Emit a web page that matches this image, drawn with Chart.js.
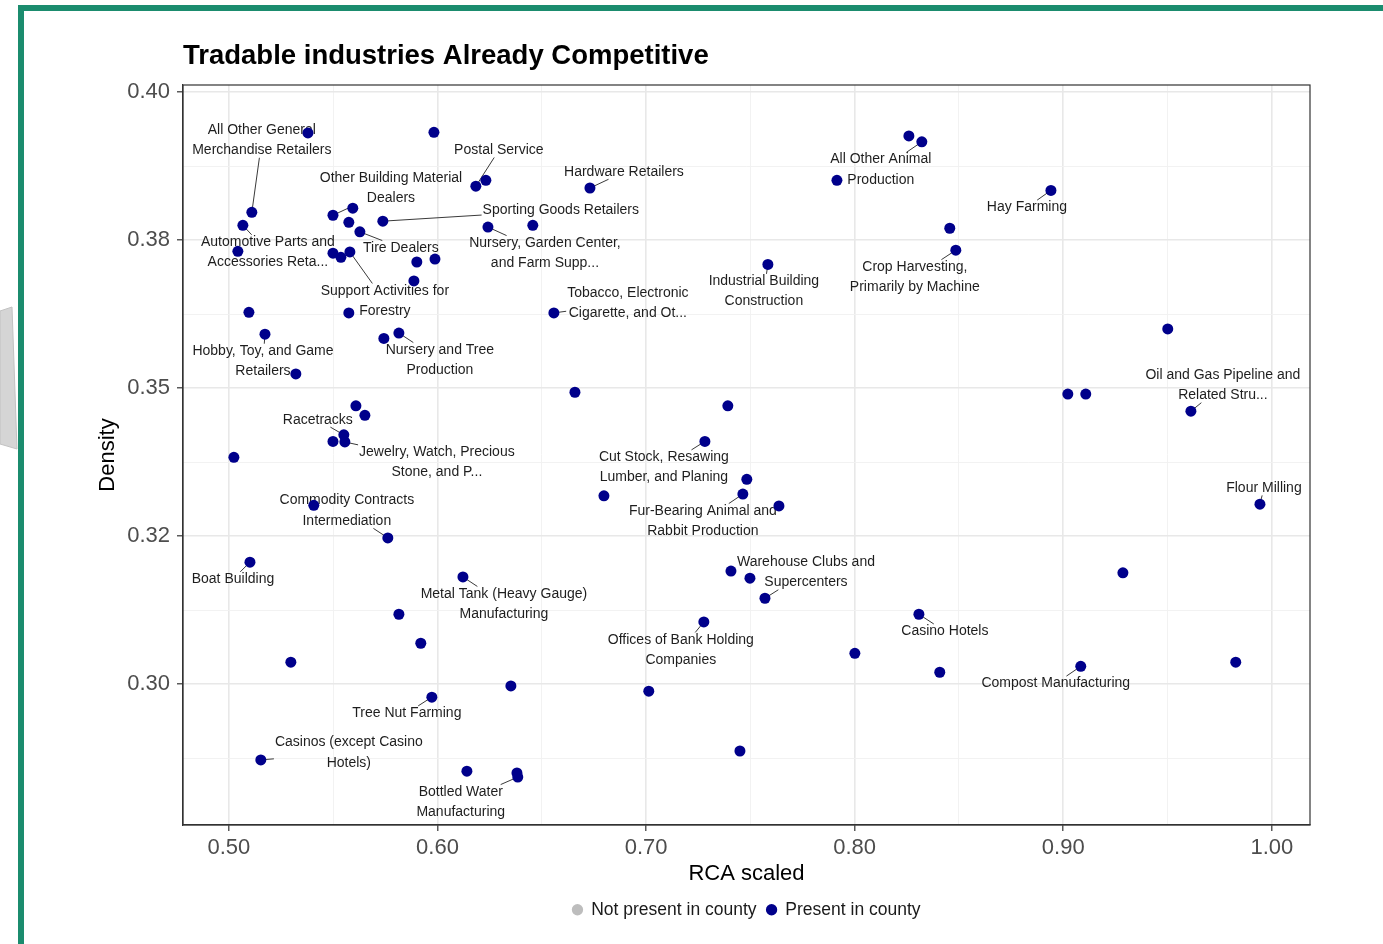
<!DOCTYPE html>
<html>
<head>
<meta charset="utf-8">
<title>Tradable industries Already Competitive</title>
<script src="https://cdn.jsdelivr.net/npm/chart.js@4.4.1/dist/chart.umd.min.js"></script>
<style>
  html, body { margin: 0; padding: 0; background: #fff; }
  #wrap { position: relative; width: 1383px; height: 944px; overflow: hidden; }
</style>
</head>
<body>
<div id="wrap"><canvas id="chart" width="1383" height="944"></canvas></div>
<script>
// values (RCA scaled vs density, one entry per industry)
const rcaScaled = [
  0.5379, 0.5983, 0.6184, 0.6232, 0.6731, 0.5499, 0.5594, 0.5575, 0.5628, 0.5738,
  0.5067, 0.5110, 0.5043, 0.5499, 0.5537, 0.5580, 0.5901, 0.5988, 0.5887, 0.5096,
  0.5575, 0.5173, 0.5321, 0.5743, 0.5815, 0.6242, 0.6457, 0.6558, 0.7584, 0.7915,
  0.8260, 0.8322, 0.8941, 0.8456, 0.8485, 0.9501, 0.9022, 0.9108, 0.9612, 0.9943,
  0.9286, 0.9827, 0.9084, 0.8408, 0.8001, 0.8308, 0.7570, 0.7407, 0.7498, 0.7277,
  0.7013, 0.7450, 0.7483, 0.7464, 0.7637, 0.7282, 0.7392, 0.6798, 0.6659, 0.5609,
  0.5652, 0.5499, 0.5551, 0.5556, 0.5024, 0.5407, 0.5762, 0.5101, 0.6122, 0.5815,
  0.5920, 0.5297, 0.5973, 0.6352, 0.5153, 0.6141, 0.6381, 0.6385
];
const density = [
  0.3931, 0.3932, 0.3841, 0.3851, 0.3838, 0.3792, 0.3804, 0.3780, 0.3764, 0.3782,
  0.3775, 0.3797, 0.3731, 0.3728, 0.3721, 0.3730, 0.3713, 0.3718, 0.3681, 0.3628,
  0.3627, 0.3591, 0.3524, 0.3584, 0.3593, 0.3772, 0.3775, 0.3627, 0.3709, 0.3851,
  0.3926, 0.3916, 0.3834, 0.3770, 0.3733, 0.3600, 0.3490, 0.3490, 0.3461, 0.3304,
  0.3188, 0.3037, 0.3030, 0.3020, 0.3052, 0.3118, 0.3145, 0.3191, 0.3179, 0.3105,
  0.2988, 0.2887, 0.3346, 0.3321, 0.3301, 0.3410, 0.3470, 0.3318, 0.3493, 0.3470,
  0.3454, 0.3410, 0.3421, 0.3409, 0.3383, 0.3302, 0.3247, 0.3206, 0.3181, 0.3118,
  0.3069, 0.3037, 0.2978, 0.2997, 0.2872, 0.2853, 0.2850, 0.2843
];
const industryNames = [
  '', '', 'Postal Service', '', 'Hardware Retailers',
  'Other Building Material\nDealers', '', '', 'Tire Dealers', 'Sporting Goods Retailers',
  'Automotive Parts and\nAccessories Reta...', 'All Other General\nMerchandise Retailers', '', '', '',
  'Support Activities for\nForestry', '', '', '', '',
  '', 'Hobby, Toy, and Game\nRetailers', '', '', 'Nursery and Tree\nProduction',
  'Nursery, Garden Center,\nand Farm Supp...', '', 'Tobacco, Electronic\nCigarette, and Ot...', 'Industrial Building\nConstruction', '',
  '', 'All Other Animal\nProduction', 'Hay Farming', '', 'Crop Harvesting,\nPrimarily by Machine',
  '', '', '', 'Oil and Gas Pipeline and\nRelated Stru...', 'Flour Milling',
  '', '', 'Compost Manufacturing', '', '',
  'Casino Hotels', 'Warehouse Clubs and\nSupercenters', '', '', 'Offices of Bank Holding\nCompanies',
  '', '', '', 'Fur-Bearing Animal and\nRabbit Production', '',
  'Cut Stock, Resawing\nLumber, and Planing', '', '', '', '',
  '', '', 'Racetracks', 'Jewelry, Watch, Precious\nStone, and P...', '',
  '', 'Commodity Contracts\nIntermediation', 'Boat Building', 'Metal Tank (Heavy Gauge)\nManufacturing', '',
  '', '', 'Tree Nut Farming', '', 'Casinos (except Casino\nHotels)',
  '', '', 'Bottled Water\nManufacturing'
];
const legendNames = ['Not present in county', 'Present in county'];
const xMajorTicks = [0.50, 0.60, 0.70, 0.80, 0.90, 1.00];
const xTickLabels = ['0.50', '0.60', '0.70', '0.80', '0.90', '1.00'];
const yMajorTicks = [0.300, 0.325, 0.350, 0.375, 0.400];
const yTickLabels = ['0.30', '0.32', '0.35', '0.38', '0.40'];
const xMinorTicks = [0.55, 0.65, 0.75, 0.85, 0.95];
const yMinorTicks = [0.2875, 0.3125, 0.3375, 0.3625, 0.3875];

// where each text label sits relative to its point (pixels), like ggrepel placed them
const labelOffsets = {
  'Postal Service': [23, -36],
  'Hardware Retailers': [34, -16],
  'Other Building Material\nDealers': [58, -27],
  'Tire Dealers': [41, 16],
  'Sporting Goods Retailers': [178, -11],
  'Automotive Parts and\nAccessories Reta...': [25, 27],
  'All Other General\nMerchandise Retailers': [10, -72],
  'Support Activities for\nForestry': [35, 49],
  'Hobby, Toy, and Game\nRetailers': [-2, 27],
  'Nursery and Tree\nProduction': [41, 27],
  'Nursery, Garden Center,\nand Farm Supp...': [57, 26],
  'Tobacco, Electronic\nCigarette, and Ot...': [74, -10],
  'Industrial Building\nConstruction': [-4, 27],
  'All Other Animal\nProduction': [-41, 28],
  'Hay Farming': [-24, 17],
  'Crop Harvesting,\nPrimarily by Machine': [-41, 27],
  'Oil and Gas Pipeline and\nRelated Stru...': [32, -26],
  'Flour Milling': [4, -16],
  'Compost Manufacturing': [-25, 17],
  'Casino Hotels': [26, 17],
  'Warehouse Clubs and\nSupercenters': [41, -26],
  'Offices of Bank Holding\nCompanies': [-23, 28],
  'Fur-Bearing Animal and\nRabbit Production': [-40, 27],
  'Cut Stock, Resawing\nLumber, and Planing': [-41, 26],
  'Racetracks': [-26, -15],
  'Jewelry, Watch, Precious\nStone, and P...': [92, 20],
  'Commodity Contracts\nIntermediation': [-41, -27],
  'Boat Building': [-17, 17],
  'Metal Tank (Heavy Gauge)\nManufacturing': [41, 27],
  'Tree Nut Farming': [-25, 16],
  'Casinos (except Casino\nHotels)': [88, -7],
  'Bottled Water\nManufacturing': [-57, 25]
};

const FONT = '"Liberation Sans", Arial, Helvetica, sans-serif';
const NAVY = '#00008b';
const POINT_R = 5.5;
const LABEL_LINE = 20.5;

const isMajor = (list, v) => list.some(t => Math.abs(t - v) < 1e-6);

// page decoration: green frame and the grey shape at the left edge
const pageFrame = {
  id: 'pageFrame',
  beforeDraw(chart) {
    const ctx = chart.ctx;
    ctx.save();
    ctx.fillStyle = '#ffffff';
    ctx.fillRect(0, 0, chart.width, chart.height);
    ctx.beginPath();
    ctx.moveTo(0, 311);
    ctx.lineTo(12, 307);
    ctx.lineTo(17, 449);
    ctx.lineTo(0, 444);
    ctx.closePath();
    ctx.fillStyle = '#d5d5d5';
    ctx.fill();
    ctx.strokeStyle = '#c2c2c2';
    ctx.lineWidth = 1;
    ctx.stroke();
    ctx.fillStyle = '#1b8c6e';
    ctx.fillRect(18, 5, 6, chart.height - 5);
    ctx.fillRect(18, 5, chart.width - 18, 6);
    ctx.restore();
  }
};

// text labels with leader segments, drawn under the points
const repelLabels = {
  id: 'repelLabels',
  beforeDatasetsDraw(chart) {
    const ctx = chart.ctx;
    const meta = chart.getDatasetMeta(1);
    const area = chart.chartArea;
    ctx.save();
    ctx.font = '14px ' + FONT;
    ctx.textAlign = 'center';
    ctx.textBaseline = 'middle';

    // panel border
    ctx.strokeStyle = '#333333';
    ctx.lineWidth = 1.2;
    ctx.strokeRect(area.left, area.top, area.right - area.left, area.bottom - area.top);

    industryNames.forEach((name, i) => {
      if (!name) return;
      const pt = meta.data[i];
      const off = labelOffsets[name];
      const lines = name.split('\n');
      const cx = pt.x + off[0];
      const cy = pt.y + off[1];
      const hw = Math.max(...lines.map(l => ctx.measureText(l).width)) / 2 + 1;
      const hh = lines.length * LABEL_LINE / 2 - 3;
      const dx = cx - pt.x;
      const dy = cy - pt.y;
      const t = Math.min(dx ? hw / Math.abs(dx) : Infinity, dy ? hh / Math.abs(dy) : Infinity);
      if (t < 1) {
        const ex = cx - dx * t;
        const ey = cy - dy * t;
        if (Math.hypot(ex - pt.x, ey - pt.y) > POINT_R + 3) {
          ctx.strokeStyle = '#3a3a3a';
          ctx.lineWidth = 1;
          ctx.beginPath();
          ctx.moveTo(pt.x, pt.y);
          ctx.lineTo(ex, ey);
          ctx.stroke();
        }
      }
      ctx.fillStyle = '#1e1e1e';
      lines.forEach((l, k) => {
        ctx.fillText(l, cx, cy + (k - (lines.length - 1) / 2) * LABEL_LINE);
      });
    });
    ctx.restore();
  }
};

const points = rcaScaled.map((x, i) => ({ x: x, y: density[i] }));

new Chart(document.getElementById('chart'), {
  type: 'scatter',
  data: {
    datasets: [
      {
        label: legendNames[0],
        data: [],
        backgroundColor: '#bdbdbd',
        borderWidth: 0,
        pointStyle: 'circle'
      },
      {
        label: legendNames[1],
        data: points,
        backgroundColor: NAVY,
        borderWidth: 0,
        pointRadius: POINT_R,
        pointHoverRadius: POINT_R,
        pointStyle: 'circle'
      }
    ]
  },
  options: {
    responsive: false,
    animation: false,
    events: [],
    devicePixelRatio: 1,
    layout: { padding: { left: 24, right: 73, top: 0, bottom: 15.5 } },
    plugins: {
      title: {
        display: true,
        text: 'Tradable industries Already Competitive',
        align: 'start',
        fullSize: false,
        color: '#000',
        font: { family: FONT, size: 27.5, weight: 'bold' },
        padding: { top: 40, bottom: 12 }
      },
      legend: {
        display: true,
        position: 'bottom',
        fullSize: false,
        labels: {
          usePointStyle: true,
          boxWidth: 10,
          boxHeight: 8,
          padding: 10,
          color: '#1a1a1a',
          font: { family: FONT, size: 17.5 }
        }
      },
      tooltip: { enabled: false }
    },
    scales: {
      x: {
        type: 'linear',
        min: 0.478,
        max: 1.0183,
        afterBuildTicks(scale) {
          scale.ticks = xMajorTicks.concat(xMinorTicks).sort((a, b) => a - b).map(v => ({ value: v }));
        },
        afterFit(scale) { scale.height = 66; },
        ticks: {
          color: '#4d4d4d',
          font: { family: FONT, size: 22 },
          padding: 4,
          maxRotation: 0,
          autoSkip: false,
          callback: v => {
            const k = xMajorTicks.findIndex(t => Math.abs(t - v) < 1e-6);
            return k >= 0 ? xTickLabels[k] : '';
          }
        },
        grid: {
          color: c => (c.tick && isMajor(xMajorTicks, c.tick.value)) ? '#e8e8e8' : '#f0f0f0',
          lineWidth: c => (c.tick && isMajor(xMajorTicks, c.tick.value)) ? 1.6 : 0.9,
          tickColor: c => (c.tick && isMajor(xMajorTicks, c.tick.value)) ? '#333333' : 'rgba(0,0,0,0)',
          tickLength: 6,
          tickWidth: 1.2
        },
        border: { display: true, color: '#333333', width: 1.2 },
        title: {
          display: true,
          text: 'RCA scaled',
          color: '#000',
          font: { family: FONT, size: 22 },
          padding: { top: 0, bottom: 4 }
        }
      },
      y: {
        type: 'linear',
        min: 0.2762,
        max: 0.4012,
        afterBuildTicks(scale) {
          scale.ticks = yMajorTicks.concat(yMinorTicks).sort((a, b) => a - b).map(v => ({ value: v }));
        },
        afterFit(scale) { scale.width = 183 - 24; },
        ticks: {
          color: '#4d4d4d',
          font: { family: FONT, size: 22 },
          padding: 7,
          autoSkip: false,
          callback: v => {
            const k = yMajorTicks.findIndex(t => Math.abs(t - v) < 1e-6);
            return k >= 0 ? yTickLabels[k] : '';
          }
        },
        grid: {
          color: c => (c.tick && isMajor(yMajorTicks, c.tick.value)) ? '#e8e8e8' : '#f0f0f0',
          lineWidth: c => (c.tick && isMajor(yMajorTicks, c.tick.value)) ? 1.6 : 0.9,
          tickColor: c => (c.tick && isMajor(yMajorTicks, c.tick.value)) ? '#333333' : 'rgba(0,0,0,0)',
          tickLength: 6,
          tickWidth: 1.2
        },
        border: { display: true, color: '#333333', width: 1.2 },
        title: {
          display: true,
          text: 'Density',
          color: '#000',
          font: { family: FONT, size: 22 },
          padding: { top: 71, bottom: 0 }
        }
      }
    }
  },
  plugins: [pageFrame, repelLabels]
});
</script>
</body>
</html>
